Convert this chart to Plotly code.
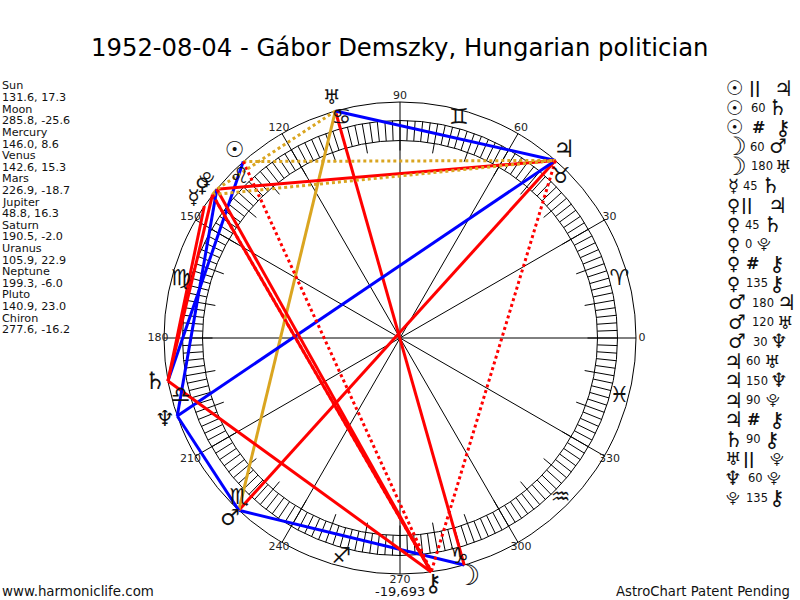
import plotly.graph_objects as go

TITLE = "1952-08-04 - Gábor Demszky, Hungarian politician"
PLANETS = ["Sun", "Moon", "Mercury", "Venus", "Mars", "Jupiter", "Saturn", "Uranus", "Neptune", "Pluto", "Chiron"]
LONGITUDE = [131.6, 285.8, 146.0, 142.6, 226.9, 48.8, 190.5, 105.9, 199.3, 140.9, 277.6]
LATITUDE = [17.3, -25.6, 8.6, 15.3, -18.7, 16.3, -2.0, 22.9, -6.0, 23.0, -16.2]
GLYPHS = ["☉", "☽", "☿", "♀", "♂", "♃", "♄", "♅", "♆", "⯓", "⚷"]
SIGNS = ["♈", "♉", "♊", "♋", "♌", "♍", "♎", "♏", "♐", "♑", "♒", "♓"]
ASPECT_FROM = ["Sun", "Sun", "Sun", "Moon", "Moon", "Mercury", "Venus", "Venus", "Venus", "Venus", "Venus",
               "Mars", "Mars", "Mars", "Jupiter", "Jupiter", "Jupiter", "Jupiter", "Saturn", "Uranus", "Neptune", "Pluto"]
ASPECT_KIND = ["||", "60", "#", "60", "180", "45", "||", "45", "0", "#", "135",
               "180", "120", "30", "60", "150", "90", "#", "90", "||", "60", "135"]
ASPECT_TO = ["Jupiter", "Saturn", "Chiron", "Mars", "Uranus", "Saturn", "Jupiter", "Saturn", "Pluto", "Chiron", "Chiron",
             "Jupiter", "Uranus", "Neptune", "Uranus", "Neptune", "Pluto", "Chiron", "Chiron", "Pluto", "Pluto", "Chiron"]
FOOTER_LEFT = "www.harmoniclife.com"
FOOTER_MID = "-19,693"
FOOTER_RIGHT = "AstroChart Patent Pending"

# layout of the aspect table (pixel centres)
ROW_LEFT = [735, 735, 735, 735, 735, 733, 733, 733, 733, 733, 733, 737, 737, 737, 733, 733, 733, 733, 733, 733, 733, 733]
ROW_MID = [755, 758, 758, 757, 762, 750, 747, 752, 748, 752, 757, 763, 763, 760, 753, 757, 753, 753, 753, 749, 755, 757]
ROW_RIGHT = [783, 777, 783, 778, 783, 770, 777, 772, 764, 777, 777, 786, 785, 779, 772, 779, 773, 777, 772, 777, 774, 777]

STYLE = {
    "0": ("#daa520", "solid"), "120": ("#daa520", "solid"), "||": ("#daa520", "dot"),
    "60": ("#0000ff", "solid"), "30": ("#0000ff", "solid"), "150": ("#0000ff", "solid"),
    "45": ("#ff0000", "solid"), "90": ("#ff0000", "solid"), "135": ("#ff0000", "solid"),
    "180": ("#ff0000", "solid"), "#": ("#ff0000", "dot"),
}
FONT = "DejaVu Sans"
GLYPH_FONT = "DejaVu Serif, DejaVu Sans"
GLYPH_SIZE = dict(zip(PLANETS, [22, 28, 20, 20, 22, 24, 24, 20, 22, 16, 24]))
CX, CY, RMAX = 400, 338, 262
R_OUT, R_RING_OUT, R_RING_IN, R_LONG = 236, 217.5, 197.5, 187.5
R_GLYPH, R_SIGN, R_DEG = 249, 227, 242


def glyph_text(g):
    return f"<b>{g}</b>" if g == "☉" else g


fig = go.Figure()

# spokes
for d in range(0, 360, 30):
    fig.add_trace(go.Scatterpolar(r=[0, R_OUT], theta=[d, d], mode="lines",
                                  line=dict(color="black", width=1), hoverinfo="skip"))
# ring ticks
t, r = [], []
for d in range(0, 360, 2):
    t += [d, d, None]
    r += [R_LONG if d % 10 == 0 else R_RING_IN, R_RING_OUT, None]
fig.add_trace(go.Scatterpolar(r=r, theta=t, mode="lines", line=dict(color="black", width=1), hoverinfo="skip"))

# aspect lines: solid ones first, dotted on top so that neighbouring dots stay visible
pos = dict(zip(PLANETS, LONGITUDE))
aspects = list(zip(ASPECT_FROM, ASPECT_KIND, ASPECT_TO))
for a, k, b in sorted(aspects, key=lambda x: STYLE[x[1]][1] == "dot"):
    c, dash = STYLE[k]
    fig.add_trace(go.Scatterpolar(r=[R_OUT, R_OUT], theta=[pos[a], pos[b]], mode="lines",
                                  line=dict(color=c, width=3, dash=dash), name=f"{a} {k} {b}"))

# degree labels
degs = list(range(0, 360, 30))
fig.add_trace(go.Scatterpolar(r=[R_DEG] * 12, theta=degs, mode="text", text=[str(d) for d in degs],
                              textposition="middle center", textfont=dict(family=FONT, size=11, color="#222222"),
                              hoverinfo="skip"))
# zodiac signs
fig.add_trace(go.Scatterpolar(r=[R_SIGN] * 12, theta=[15 + 30 * i for i in range(12)], mode="text",
                              text=SIGNS, textposition="middle center",
                              textfont=dict(family=GLYPH_FONT, size=22, color="#111111"), hoverinfo="skip"))
# planet glyphs
fig.add_trace(go.Scatterpolar(r=[R_GLYPH] * 11, theta=LONGITUDE, mode="text",
                              text=[glyph_text(g) for g in GLYPHS],
                              textposition="middle center",
                              textfont=dict(family=GLYPH_FONT, size=[GLYPH_SIZE[p] for p in PLANETS], color="#111111"),
                              hoverinfo="skip"))

ann = []


def label(x, y, text, size, anchor="center", color="#111111", family=FONT):
    ann.append(dict(x=x / 800, y=1 - y / 600, xref="paper", yref="paper", text=text, showarrow=False,
                    xanchor=anchor, yanchor="middle", align="left", font=dict(family=family, size=size, color=color),
                    borderpad=0, borderwidth=0))


# left list
for i, (p, lo, la) in enumerate(zip(PLANETS, LONGITUDE, LATITUDE)):
    label(2, 86 + i * 23.2, p, 11.2, "left")
    label(2, 97.6 + i * 23.2, f"{lo:.1f}, {la:.1f}", 11.2, "left")

# aspect table
glyph_of = dict(zip(PLANETS, GLYPHS))
for i, (a, k, b) in enumerate(zip(ASPECT_FROM, ASPECT_KIND, ASPECT_TO)):
    y = 88 + i * 19.52
    label(ROW_LEFT[i], y, glyph_text(glyph_of[a]), GLYPH_SIZE[a] * 0.9, family=GLYPH_FONT)
    mid = f"<b>{k}</b>" if k in ("||", "#") else k
    label(ROW_MID[i], y, mid, 16 if k in ("||", "#") else 11.5)
    label(ROW_RIGHT[i], y, glyph_text(glyph_of[b]), GLYPH_SIZE[b] * 0.9, family=GLYPH_FONT)

label(2, 591, FOOTER_LEFT, 13.4, "left")
label(400, 591, FOOTER_MID, 13)
label(790, 591, FOOTER_RIGHT, 13.2, "right")
label(400, 48, TITLE, 24.3, color="#000000")

fig.update_layout(
    width=800, height=600, margin=dict(l=0, r=0, t=0, b=0), showlegend=False,
    paper_bgcolor="white", plot_bgcolor="white", annotations=ann,
    polar=dict(
        domain=dict(x=[(CX - RMAX) / 800, (CX + RMAX) / 800], y=[0, 2 * RMAX / 600]),
        bgcolor="white",
        radialaxis=dict(range=[0, RMAX], tickvals=[R_RING_IN, R_RING_OUT, R_OUT], showticklabels=False,
                        ticks="", showline=False, showgrid=True, gridcolor="black", gridwidth=1),
        angularaxis=dict(showticklabels=False, ticks="", showline=False, showgrid=False, direction="counterclockwise",
                         rotation=0),
    ),
)
fig.write_html("out.html", post_script="document.body.style.margin='0';", config={"displayModeBar": False})
